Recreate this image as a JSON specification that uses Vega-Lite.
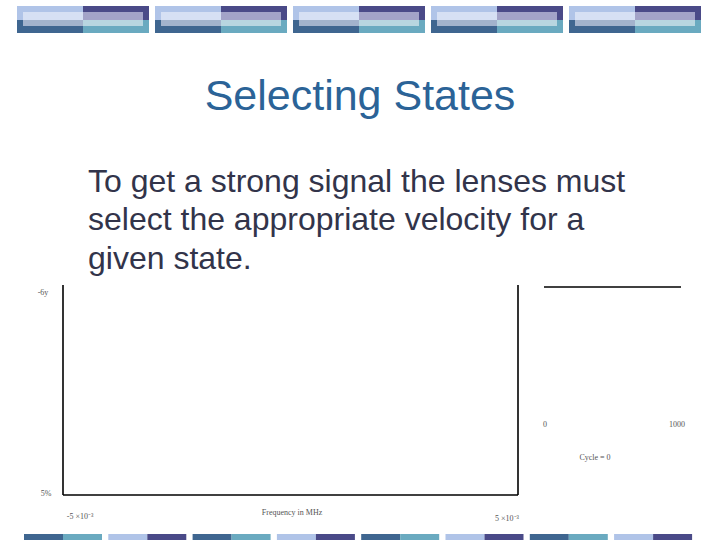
{
  "$schema": "https://vega.github.io/schema/vega-lite/v6.json",
  "width": 720,
  "height": 540,
  "padding": 0,
  "autosize": {"type": "fit", "contains": "padding"},
  "background": "#ffffff",
  "config": {"view": {"stroke": null}},
  "datasets": {
    "bars": [
      {"x": 17, "x2": 83, "y": 6, "y2": 20, "c": "#b0c4e8"},
      {"x": 17, "x2": 83, "y": 20, "y2": 33, "c": "#3f6690"},
      {"x": 83, "x2": 149, "y": 6, "y2": 20, "c": "#4a4a88"},
      {"x": 83, "x2": 149, "y": 20, "y2": 33, "c": "#6aaac0"},
      {"x": 23, "x2": 83, "y": 12, "y2": 20, "c": "#d6e0f4"},
      {"x": 23, "x2": 83, "y": 20, "y2": 26, "c": "#a3b3cc"},
      {"x": 83, "x2": 143, "y": 12, "y2": 20, "c": "#a3a3c8"},
      {"x": 83, "x2": 143, "y": 20, "y2": 26, "c": "#b8d6e0"},
      {"x": 155, "x2": 221, "y": 6, "y2": 20, "c": "#b0c4e8"},
      {"x": 155, "x2": 221, "y": 20, "y2": 33, "c": "#3f6690"},
      {"x": 221, "x2": 287, "y": 6, "y2": 20, "c": "#4a4a88"},
      {"x": 221, "x2": 287, "y": 20, "y2": 33, "c": "#6aaac0"},
      {"x": 161, "x2": 221, "y": 12, "y2": 20, "c": "#d6e0f4"},
      {"x": 161, "x2": 221, "y": 20, "y2": 26, "c": "#a3b3cc"},
      {"x": 221, "x2": 281, "y": 12, "y2": 20, "c": "#a3a3c8"},
      {"x": 221, "x2": 281, "y": 20, "y2": 26, "c": "#b8d6e0"},
      {"x": 293, "x2": 359, "y": 6, "y2": 20, "c": "#b0c4e8"},
      {"x": 293, "x2": 359, "y": 20, "y2": 33, "c": "#3f6690"},
      {"x": 359, "x2": 425, "y": 6, "y2": 20, "c": "#4a4a88"},
      {"x": 359, "x2": 425, "y": 20, "y2": 33, "c": "#6aaac0"},
      {"x": 299, "x2": 359, "y": 12, "y2": 20, "c": "#d6e0f4"},
      {"x": 299, "x2": 359, "y": 20, "y2": 26, "c": "#a3b3cc"},
      {"x": 359, "x2": 419, "y": 12, "y2": 20, "c": "#a3a3c8"},
      {"x": 359, "x2": 419, "y": 20, "y2": 26, "c": "#b8d6e0"},
      {"x": 431, "x2": 497, "y": 6, "y2": 20, "c": "#b0c4e8"},
      {"x": 431, "x2": 497, "y": 20, "y2": 33, "c": "#3f6690"},
      {"x": 497, "x2": 563, "y": 6, "y2": 20, "c": "#4a4a88"},
      {"x": 497, "x2": 563, "y": 20, "y2": 33, "c": "#6aaac0"},
      {"x": 437, "x2": 497, "y": 12, "y2": 20, "c": "#d6e0f4"},
      {"x": 437, "x2": 497, "y": 20, "y2": 26, "c": "#a3b3cc"},
      {"x": 497, "x2": 557, "y": 12, "y2": 20, "c": "#a3a3c8"},
      {"x": 497, "x2": 557, "y": 20, "y2": 26, "c": "#b8d6e0"},
      {"x": 569, "x2": 635, "y": 6, "y2": 20, "c": "#b0c4e8"},
      {"x": 569, "x2": 635, "y": 20, "y2": 33, "c": "#3f6690"},
      {"x": 635, "x2": 701, "y": 6, "y2": 20, "c": "#4a4a88"},
      {"x": 635, "x2": 701, "y": 20, "y2": 33, "c": "#6aaac0"},
      {"x": 575, "x2": 635, "y": 12, "y2": 20, "c": "#d6e0f4"},
      {"x": 575, "x2": 635, "y": 20, "y2": 26, "c": "#a3b3cc"},
      {"x": 635, "x2": 695, "y": 12, "y2": 20, "c": "#a3a3c8"},
      {"x": 635, "x2": 695, "y": 20, "y2": 26, "c": "#b8d6e0"},
      {"x": 24, "x2": 63, "y": 534, "y2": 540, "c": "#3f6690"},
      {"x": 63, "x2": 102, "y": 534, "y2": 540, "c": "#6aaac0"},
      {"x": 108.3, "x2": 147.3, "y": 534, "y2": 540, "c": "#b0c4e8"},
      {"x": 147.3, "x2": 186.3, "y": 534, "y2": 540, "c": "#4a4a88"},
      {"x": 192.6, "x2": 231.6, "y": 534, "y2": 540, "c": "#3f6690"},
      {"x": 231.6, "x2": 270.6, "y": 534, "y2": 540, "c": "#6aaac0"},
      {"x": 276.9, "x2": 315.9, "y": 534, "y2": 540, "c": "#b0c4e8"},
      {"x": 315.9, "x2": 354.9, "y": 534, "y2": 540, "c": "#4a4a88"},
      {"x": 361.2, "x2": 400.2, "y": 534, "y2": 540, "c": "#3f6690"},
      {"x": 400.2, "x2": 439.2, "y": 534, "y2": 540, "c": "#6aaac0"},
      {"x": 445.5, "x2": 484.5, "y": 534, "y2": 540, "c": "#b0c4e8"},
      {"x": 484.5, "x2": 523.5, "y": 534, "y2": 540, "c": "#4a4a88"},
      {"x": 529.8, "x2": 568.8, "y": 534, "y2": 540, "c": "#3f6690"},
      {"x": 568.8, "x2": 607.8, "y": 534, "y2": 540, "c": "#6aaac0"},
      {"x": 614.1, "x2": 653.1, "y": 534, "y2": 540, "c": "#b0c4e8"},
      {"x": 653.1, "x2": 692.1, "y": 534, "y2": 540, "c": "#4a4a88"}
    ],
    "lines": [
      {"x": 63, "y": 285, "x2": 63, "y2": 495},
      {"x": 63, "y": 495, "x2": 518, "y2": 495},
      {"x": 518, "y": 285, "x2": 518, "y2": 495},
      {"x": 544, "y": 287, "x2": 681, "y2": 287}
    ],
    "body": [
      {"x": 88, "y": 192, "t": "To get a strong signal the lenses must"},
      {"x": 88, "y": 230, "t": "select the appropriate velocity for a"},
      {"x": 88, "y": 269, "t": "given state."}
    ],
    "small": [
      {"x": 43, "y": 295, "t": "-6y", "a": "center"},
      {"x": 46, "y": 496, "t": "5%", "a": "center"},
      {"x": 80, "y": 519, "t": "-5 ×10⁻³", "a": "center"},
      {"x": 292, "y": 515, "t": "Frequency in MHz", "a": "center"},
      {"x": 507, "y": 521, "t": "5 ×10⁻³", "a": "center"},
      {"x": 545, "y": 427, "t": "0", "a": "center"},
      {"x": 677, "y": 427, "t": "1000", "a": "center"},
      {"x": 595, "y": 460, "t": "Cycle = 0", "a": "center"}
    ]
  },
  "layer": [
    {
      "data": {"name": "bars"},
      "mark": {"type": "rect"},
      "encoding": {
        "x": {"field": "x", "type": "quantitative", "scale": {"domain": [0, 720], "nice": false, "zero": false}, "axis": null},
        "x2": {"field": "x2"},
        "y": {"field": "y", "type": "quantitative", "scale": {"domain": [0, 540], "nice": false, "zero": false, "reverse": true}, "axis": null},
        "y2": {"field": "y2"},
        "color": {"field": "c", "type": "nominal", "scale": null, "legend": null}
      }
    },
    {
      "data": {"name": "lines"},
      "mark": {"type": "rule", "color": "#000000", "strokeWidth": 1.6},
      "encoding": {
        "x": {"field": "x", "type": "quantitative"},
        "x2": {"field": "x2"},
        "y": {"field": "y", "type": "quantitative"},
        "y2": {"field": "y2"}
      }
    },
    {
      "data": {"values": [{"x": 360, "y": 110, "t": "Selecting States"}]},
      "mark": {"type": "text", "font": "Liberation Sans", "fontSize": 43, "color": "#2b6397", "align": "center", "baseline": "alphabetic"},
      "encoding": {
        "x": {"field": "x", "type": "quantitative"},
        "y": {"field": "y", "type": "quantitative"},
        "text": {"field": "t"}
      }
    },
    {
      "data": {"name": "body"},
      "mark": {"type": "text", "font": "Liberation Sans", "fontSize": 32, "color": "#32344a", "align": "left", "baseline": "alphabetic"},
      "encoding": {
        "x": {"field": "x", "type": "quantitative"},
        "y": {"field": "y", "type": "quantitative"},
        "text": {"field": "t"}
      }
    },
    {
      "data": {"name": "small"},
      "mark": {"type": "text", "font": "Liberation Serif", "fontSize": 8, "color": "#555555", "align": "center", "baseline": "alphabetic"},
      "encoding": {
        "x": {"field": "x", "type": "quantitative"},
        "y": {"field": "y", "type": "quantitative"},
        "text": {"field": "t"}
      }
    }
  ]
}
